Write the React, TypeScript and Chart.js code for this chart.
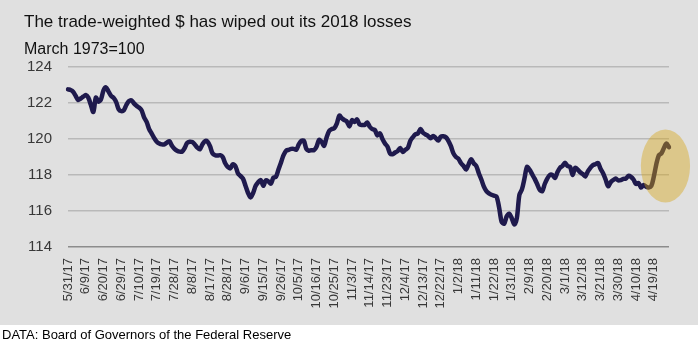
import { useEffect, useRef } from "react";
import { Chart, registerables } from "chart.js";

Chart.register(...registerables);

const TITLE = "The trade-weighted $ has wiped out its 2018 losses";
const SUBTITLE = "March 1973=100";
const SOURCE = "DATA: Board of Governors of the Federal Reserve";

const TICK_LABELS = [
  "5/31/17", "6/9/17", "6/20/17", "6/29/17", "7/10/17", "7/19/17", "7/28/17",
  "8/8/17", "8/17/17", "8/28/17", "9/6/17", "9/15/17", "9/26/17", "10/5/17",
  "10/16/17", "10/25/17", "11/3/17", "11/14/17", "11/23/17", "12/4/17",
  "12/13/17", "12/22/17", "1/2/18", "1/11/18", "1/22/18", "1/31/18", "2/9/18",
  "2/20/18", "3/1/18", "3/12/18", "3/21/18", "3/30/18", "4/10/18", "4/19/18",
];
const TICK_EVERY = 7; // business days between labelled dates

const Y_MIN = 114;
const Y_MAX = 124;
const Y_STEP = 2;

// Daily trade-weighted dollar index (business days, 5/31/17 onward)
const INDEX_VALUES = [
  122.76, 122.72, 122.63, 122.4, 122.17, 122.25, 122.35, 122.44, 122.3, 121.9,
  121.5, 122.3, 122.07, 122.2, 122.7, 122.87, 122.63, 122.4, 122.28, 122.05,
  121.65, 121.55, 121.6, 121.89, 122.1, 122.15, 121.98, 121.85, 121.75, 121.6,
  121.2, 120.95, 120.55, 120.3, 120.05, 119.85, 119.75, 119.7, 119.7, 119.8,
  119.88, 119.62, 119.45, 119.35, 119.3, 119.3, 119.5, 119.78, 119.85, 119.83,
  119.7, 119.52, 119.43, 119.7, 119.88, 119.85, 119.6, 119.2, 119.1, 119.08,
  119.1, 119.0, 118.65, 118.45, 118.37, 118.6, 118.5, 118.1, 117.95, 117.8,
  117.4, 117.0, 116.75, 117.0, 117.4, 117.6, 117.72, 117.4, 117.7, 117.65,
  117.52, 117.85, 117.9, 118.3, 118.7, 119.1, 119.35, 119.4, 119.45, 119.45,
  119.4, 119.7, 119.9, 119.9, 119.45, 119.35, 119.38, 119.38, 119.57, 119.95,
  119.85, 119.62, 120.1, 120.45, 120.55, 120.6, 120.85, 121.3, 121.15, 121.05,
  120.96, 120.7, 121.05, 120.95, 121.09, 120.8, 120.78, 120.78, 120.92, 120.68,
  120.55, 120.5, 120.2, 120.31, 120.0, 119.75, 119.57, 119.2, 119.15, 119.25,
  119.33, 119.5, 119.28, 119.4, 119.5, 119.9, 120.1, 120.26, 120.31, 120.55,
  120.35, 120.25, 120.17, 120.04, 120.17, 120.05, 119.91, 120.13, 120.15, 120.1,
  119.9, 119.6, 119.2, 119.0, 118.9, 118.65, 118.5, 118.3, 118.6, 118.88,
  118.65, 118.5, 118.1, 117.75, 117.35, 117.1, 116.98, 116.9, 116.85, 116.8,
  116.2, 115.4, 115.3, 115.7, 115.85, 115.6, 115.25, 115.6, 116.9, 117.2,
  117.8, 118.45, 118.3, 118.05, 117.8, 117.5, 117.18, 117.1, 117.5, 117.8,
  118.0, 118.0, 117.83, 118.15, 118.4, 118.5, 118.68, 118.5, 118.45, 118.0,
  118.4, 118.3, 118.15, 118.05, 117.92, 118.2, 118.4, 118.55, 118.6, 118.67,
  118.35, 118.1, 117.75, 117.38, 117.6, 117.72, 117.8, 117.7, 117.72, 117.78,
  117.8, 117.95, 117.9, 117.75, 117.5, 117.55, 117.3, 117.45, 117.35, 117.3,
  117.38, 117.9, 118.6, 119.1, 119.2, 119.5, 119.75, 119.55,
];

// Highlight ellipse around the latest rally (in data units)
const HIGHLIGHT_CENTER_INDEX = 235.6;
const HIGHLIGHT_CENTER_VALUE = 118.5;
const HIGHLIGHT_HALF_WIDTH_POINTS = 9.7;
const HIGHLIGHT_HALF_HEIGHT_VALUE = 2.03;

const FONT = "'Liberation Sans', Arial, Helvetica, sans-serif";
const LINE_COLOR = "#1f1a4d";
const BG_COLOR = "#e0e0e0";
const TICK_COLOR = "#383838";
const HIGHLIGHT_FILL = "rgba(215, 165, 20, 0.42)";
const PANEL_HEIGHT = 325;

const decorPlugin = {
  id: "decor",
  beforeDraw(chart: any) {
    const { ctx, width, height } = chart;
    ctx.save();
    ctx.fillStyle = BG_COLOR;
    ctx.fillRect(0, 0, width, PANEL_HEIGHT);
    ctx.fillStyle = "#ffffff";
    ctx.fillRect(0, PANEL_HEIGHT, width, height - PANEL_HEIGHT);
    ctx.restore();
  },
  afterDatasetsDraw(chart: any) {
    const { ctx } = chart;
    const xs = chart.scales.x;
    const ys = chart.scales.y;
    const cx = xs.getPixelForValue(HIGHLIGHT_CENTER_INDEX);
    const cy = ys.getPixelForValue(HIGHLIGHT_CENTER_VALUE);
    const rx = Math.abs(
      xs.getPixelForValue(HIGHLIGHT_CENTER_INDEX + HIGHLIGHT_HALF_WIDTH_POINTS) - cx
    );
    const ry = Math.abs(
      ys.getPixelForValue(HIGHLIGHT_CENTER_VALUE + HIGHLIGHT_HALF_HEIGHT_VALUE) - cy
    );
    ctx.save();
    ctx.beginPath();
    ctx.ellipse(cx, cy, rx, ry, 0, 0, Math.PI * 2);
    ctx.fillStyle = HIGHLIGHT_FILL;
    ctx.fill();
    ctx.restore();
  },
  afterDraw(chart: any) {
    const { ctx } = chart;
    ctx.save();
    ctx.textBaseline = "alphabetic";
    ctx.textAlign = "left";
    ctx.fillStyle = "#111111";
    ctx.font = `17px ${FONT}`;
    ctx.fillText(TITLE, 24, 27);
    ctx.font = `16px ${FONT}`;
    ctx.fillText(SUBTITLE, 24, 54);
    ctx.fillStyle = "#000000";
    ctx.font = `13px ${FONT}`;
    ctx.fillText(SOURCE, 2, 339);
    ctx.restore();
  },
};

export default function App() {
  const ref = useRef<HTMLCanvasElement>(null);

  useEffect(() => {
    const canvas = ref.current;
    if (!canvas) return;
    const chart = new Chart(canvas, {
      type: "line",
      data: {
        labels: INDEX_VALUES.map((_, i) => i),
        datasets: [
          {
            data: INDEX_VALUES,
            borderColor: LINE_COLOR,
            borderWidth: 4.5,
            pointRadius: 0,
            tension: 0.3,
            borderJoinStyle: "round",
            borderCapStyle: "round",
            fill: false,
          },
        ],
      },
      options: {
        responsive: false,
        animation: false,
        devicePixelRatio: 1,
        layout: { padding: { top: 67, right: 29, bottom: 0, left: 0 } },
        plugins: {
          legend: { display: false },
          tooltip: { enabled: false },
          title: { display: false },
        },
        scales: {
          x: {
            type: "category",
            offset: false,
            grid: { display: false, drawTicks: false },
            border: { display: false },
            ticks: {
              autoSkip: false,
              maxRotation: 90,
              minRotation: 90,
              padding: 11,
              color: TICK_COLOR,
              font: { family: FONT, size: 13 },
              callback: (_v: any, i: number) =>
                i % TICK_EVERY === 0 ? TICK_LABELS[i / TICK_EVERY] ?? null : null,
            },
            afterFit: (s: any) => {
              s.height = 95;
            },
          },
          y: {
            min: Y_MIN,
            max: Y_MAX,
            ticks: {
              stepSize: Y_STEP,
              padding: 16,
              color: TICK_COLOR,
              font: { family: FONT, size: 15 },
            },
            grid: {
              drawTicks: false,
              lineWidth: 1.5,
              color: (c: any) => (c.tick && c.tick.value === Y_MIN ? "#8c8c8c" : "#b9b9b9"),
            },
            border: { display: false },
            afterFit: (s: any) => {
              s.width = 68;
            },
          },
        },
      },
      plugins: [decorPlugin],
    } as any);
    return () => chart.destroy();
  }, []);

  return (
    <div style={{ position: "absolute", left: 0, top: 0, width: 698, height: 342 }}>
      <canvas
        ref={ref}
        width={698}
        height={342}
        style={{ display: "block", width: 698, height: 342 }}
      />
    </div>
  );
}
